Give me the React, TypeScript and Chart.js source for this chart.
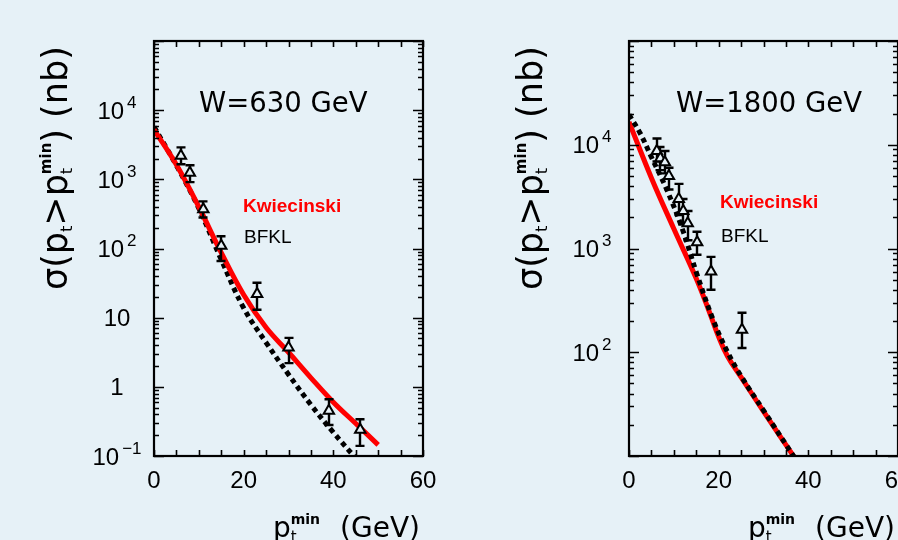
import React, { useEffect, useRef } from "react";
import { Chart, registerables } from "chart.js";

Chart.register(...registerables);

const BG = "#e6f1f7";

// ---------- Panel 1 : W = 630 GeV ----------
const kwi630X = [0, 5, 10, 15, 20, 25, 30, 35, 40, 45, 50];
const kwi630Y = [5250, 1620, 398, 87, 21.4, 7.2, 3.16, 1.35, 0.6, 0.295, 0.145];
const bfkl630X = [0, 5, 10, 15, 20, 25, 30, 35, 40, 45];
const bfkl630Y = [5750, 1585, 380, 69, 13.8, 4.37, 1.51, 0.55, 0.219, 0.093];
const data630X = [6, 8, 11, 15, 23, 30, 39, 46];
const data630Y = [2200, 1250, 370, 110, 22, 3.7, 0.45, 0.24];
const data630Lo = [1650, 910, 280, 66, 13, 2.2, 0.28, 0.14];
const data630Hi = [2900, 1600, 480, 150, 32, 5.1, 0.66, 0.34];

// ---------- Panel 2 : W = 1800 GeV ----------
const kwi1800X = [0, 5, 10, 15, 18, 20, 22, 25, 30, 37];
const kwi1800Y = [16600, 4790, 1550, 513, 240, 141, 91, 57.5, 26.9, 9.55];
const bfkl1800X = [0, 2.5, 5, 8.4, 11.8, 15.1, 18.8, 22, 25, 30, 37];
const bfkl1800Y = [19500, 12900, 7590, 3715, 1585, 575, 204, 100, 58.9, 27.5, 9.55];
const data1800X = [6.2, 7.0, 8.0, 8.9, 11.1, 12.1, 13.1, 15.2, 18.3, 25.2];
const data1800Y = [8700, 7400, 6800, 5000, 3000, 2300, 1750, 1150, 600, 165];
const data1800Lo = [6900, 5700, 5300, 3700, 2100, 1700, 1200, 870, 400, 110];
const data1800Hi = [11500, 9500, 8700, 6000, 4200, 3000, 2300, 1450, 830, 240];

// ---------- Axes ----------
const xTicks = [0, 20, 40, 60];
const yTicks630 = [1e4, 1e3, 1e2, 10, 1, 0.1];
const yBase630 = ["10", "10", "10", "10", "1", "10"];
const yExp630 = ["4", "3", "2", "", "", "\u22121"];
const yTicks1800 = [1e4, 1e3, 1e2];
const yBase1800 = ["10", "10", "10"];
const yExp1800 = ["4", "3", "2"];

const MAIN = '"DejaVu Sans", sans-serif';
const LIB = '"Liberation Sans", Arial, sans-serif';

type Seg = { t: string; px: number; bold?: boolean; dy?: number; gap?: number; stack?: boolean; family?: string; color?: string };

const fontOf = (s: Seg) => `${s.bold ? "bold " : ""}${s.px}px ${s.family || MAIN}`;

function drawRich(ctx: CanvasRenderingContext2D, segs: Seg[], x: number, y: number, align: "left" | "right" | "center") {
  let cur = 0;
  let lastStart = 0;
  let lastW = 0;
  const placed: { s: Seg; sx: number }[] = [];
  for (const s of segs) {
    ctx.font = fontOf(s);
    const w = ctx.measureText(s.t).width;
    let sx: number;
    if (s.stack) {
      sx = lastStart;
      const m = Math.max(lastW, w);
      cur = lastStart + m;
      lastW = m;
    } else {
      sx = cur;
      lastStart = cur;
      lastW = w;
      cur += w;
    }
    cur += s.gap || 0;
    placed.push({ s, sx });
  }
  const off = align === "right" ? -cur : align === "center" ? -cur / 2 : 0;
  ctx.textAlign = "left";
  ctx.textBaseline = "alphabetic";
  for (const { s, sx } of placed) {
    ctx.font = fontOf(s);
    ctx.fillStyle = s.color || "#000";
    ctx.fillText(s.t, x + off + sx, y + (s.dy || 0));
  }
}

type Panel = {
  key: string;
  title: string;
  kx: number[]; ky: number[];
  bx: number[]; by: number[];
  dx: number[]; dy: number[]; lo: number[]; hi: number[];
  yMin: number; yMax: number;
  yTicks: number[]; yBase: string[]; yExp: string[];
  dashOnTop: boolean;
  pad: { left: number; right: number; top: number; bottom: number };
  width: number;
  titleDx: number; kwiDx: number; kwiY: number; bfklY: number;
};

function makePlugin(p: Panel) {
  return {
    id: "panel" + p.key,
    beforeDatasetDraw(chart: any, args: any) {
      if (args.index !== 0) return;
      const { ctx, chartArea: a } = chart;
      const xs = chart.scales.x;
      const ys = chart.scales.y;
      ctx.save();
      ctx.beginPath();
      ctx.rect(a.left, a.top, a.right - a.left, a.bottom - a.top);
      ctx.clip();
      ctx.strokeStyle = "#000";
      ctx.lineWidth = 2.4;
      p.dx.forEach((v, i) => {
        const px = Math.round(xs.getPixelForValue(v));
        const yl = ys.getPixelForValue(p.lo[i]);
        const yh = ys.getPixelForValue(p.hi[i]);
        ctx.beginPath();
        ctx.moveTo(px, yl);
        ctx.lineTo(px, yh);
        ctx.moveTo(px - 4.5, yl);
        ctx.lineTo(px + 4.5, yl);
        ctx.moveTo(px - 4.5, yh);
        ctx.lineTo(px + 4.5, yh);
        ctx.stroke();
      });
      ctx.restore();
    },
    afterDraw(chart: any) {
      const { ctx, chartArea: a } = chart;
      const xs = chart.scales.x;
      const ys = chart.scales.y;
      ctx.save();
      ctx.strokeStyle = "#000";
      // ticks
      ctx.lineWidth = 1.6;
      ctx.beginPath();
      for (let v = 0; v <= 60; v += 5) {
        const px = Math.round(xs.getPixelForValue(v)) + 0.5;
        ctx.moveTo(px, a.bottom);
        ctx.lineTo(px, a.bottom - 6);
        ctx.moveTo(px, a.top);
        ctx.lineTo(px, a.top + 6);
      }
      const d0 = Math.floor(Math.log10(p.yMin));
      const d1 = Math.ceil(Math.log10(p.yMax));
      for (let d = d0; d <= d1; d++) {
        for (let k = 1; k <= 9; k++) {
          const v = k * Math.pow(10, d);
          if (v < p.yMin * 0.999 || v > p.yMax * 1.001) continue;
          const py = Math.round(ys.getPixelForValue(v)) + 0.5;
          const len = k === 1 ? 10 : 5;
          ctx.moveTo(a.left, py);
          ctx.lineTo(a.left + len, py);
          ctx.moveTo(a.right, py);
          ctx.lineTo(a.right - len, py);
        }
      }
      ctx.stroke();
      // frame
      ctx.lineWidth = 2.2;
      ctx.strokeRect(a.left, a.top, a.right - a.left, a.bottom - a.top);

      // x tick labels
      ctx.fillStyle = "#000";
      ctx.font = `24px ${LIB}`;
      ctx.textAlign = "center";
      ctx.textBaseline = "alphabetic";
      xTicks.forEach((v) => {
        ctx.fillText(String(v), xs.getPixelForValue(v), a.bottom + 32);
      });
      // y tick labels
      p.yTicks.forEach((v, i) => {
        const py = ys.getPixelForValue(v);
        const segs: Seg[] = [{ t: p.yBase[i], px: 24, family: LIB, gap: p.yExp[i] ? 3 : 0 }];
        if (p.yExp[i]) segs.push({ t: p.yExp[i], px: 17, family: LIB, dy: -11 });
        drawRich(ctx, segs, a.left - 37, py + 8.5, "center");
      });

      // x title
      drawRich(
        ctx,
        [
          { t: "p", px: 28 },
          { t: "t", px: 15, dy: 5 },
          { t: "min", px: 14, bold: true, dy: -13, stack: true, gap: 20 },
          { t: "(GeV)", px: 28 },
        ],
        a.right - 3,
        a.bottom + 81,
        "right"
      );

      // y title (rotated)
      ctx.save();
      ctx.translate(a.left - 87, 290);
      ctx.rotate(-Math.PI / 2);
      drawRich(
        ctx,
        [
          { t: "\u03c3(p", px: 35 },
          { t: "t", px: 16, dy: 5 },
          { t: ">p", px: 35 },
          { t: "t", px: 16, dy: 5 },
          { t: "min", px: 15, bold: true, dy: -16, stack: true },
          { t: ") (nb)", px: 35 },
        ],
        0,
        0,
        "left"
      );
      ctx.restore();

      // annotations
      ctx.textAlign = "left";
      ctx.fillStyle = "#000";
      ctx.font = `27.5px ${MAIN}`;
      ctx.fillText(p.title, a.left + p.titleDx, 112);
      ctx.fillStyle = "#ff0000";
      ctx.font = `bold 19px ${LIB}`;
      ctx.fillText("Kwiecinski", a.left + p.kwiDx, p.kwiY);
      ctx.fillStyle = "#000";
      ctx.font = `19px ${LIB}`;
      ctx.fillText("BFKL", a.left + p.kwiDx + 1, p.bfklY);
      ctx.restore();
    },
  };
}

function makeConfig(p: Panel): any {
  const pts = (xs: number[], ys: number[]) => xs.map((x, i) => ({ x, y: ys[i] }));
  return {
    type: "line",
    data: {
      datasets: [
        {
          label: "data",
          data: pts(p.dx, p.dy),
          showLine: false,
          pointStyle: "triangle",
          pointRadius: 6,
          pointBorderWidth: 2,
          pointBorderColor: "#000",
          pointBackgroundColor: BG,
          order: 0,
        },
        {
          label: "BFKL",
          data: pts(p.bx, p.by),
          borderColor: "#000",
          borderWidth: 5,
          borderDash: [5, 4],
          pointRadius: 0,
          tension: 0.4,
          fill: false,
          order: p.dashOnTop ? 1 : 2,
        },
        {
          label: "Kwiecinski",
          data: pts(p.kx, p.ky),
          borderColor: "#ff0000",
          borderWidth: 5,
          pointRadius: 0,
          tension: 0.4,
          fill: false,
          order: p.dashOnTop ? 2 : 1,
        },
      ],
    },
    options: {
      responsive: false,
      animation: false,
      devicePixelRatio: 1,
      events: [],
      layout: { padding: p.pad },
      scales: {
        x: { type: "linear", min: 0, max: 60, display: false },
        y: { type: "logarithmic", min: p.yMin, max: p.yMax, display: false },
      },
      plugins: { legend: { display: false }, tooltip: { enabled: false } },
    },
    plugins: [makePlugin(p)],
  };
}

const panel630: Panel = {
  key: "630",
  title: "W=630 GeV",
  kx: kwi630X, ky: kwi630Y, bx: bfkl630X, by: bfkl630Y,
  dx: data630X, dy: data630Y, lo: data630Lo, hi: data630Hi,
  yMin: 0.1, yMax: 1e5,
  yTicks: yTicks630, yBase: yBase630, yExp: yExp630,
  dashOnTop: false,
  pad: { left: 154, right: 26, top: 41, bottom: 84 },
  width: 449,
  titleDx: 45, kwiDx: 89, kwiY: 212, bfklY: 243,
};

const panel1800: Panel = {
  key: "1800",
  title: "W=1800 GeV",
  kx: kwi1800X, ky: kwi1800Y, bx: bfkl1800X, by: bfkl1800Y,
  dx: data1800X, dy: data1800Y, lo: data1800Lo, hi: data1800Hi,
  yMin: 10, yMax: 1e5,
  yTicks: yTicks1800, yBase: yBase1800, yExp: yExp1800,
  dashOnTop: true,
  pad: { left: 180, right: 31, top: 41, bottom: 84 },
  width: 480,
  titleDx: 47, kwiDx: 91, kwiY: 208, bfklY: 242,
};

function PanelChart({ p, left }: { p: Panel; left: number }) {
  const ref = useRef<HTMLCanvasElement | null>(null);
  useEffect(() => {
    if (!ref.current) return;
    const chart = new Chart(ref.current, makeConfig(p));
    return () => chart.destroy();
  }, [p]);
  return (
    <canvas
      ref={ref}
      width={p.width}
      height={540}
      style={{ position: "absolute", left, top: 0, width: p.width, height: 540 }}
    />
  );
}

export default function App() {
  return (
    <div
      style={{
        position: "fixed",
        left: 0,
        top: 0,
        width: 898,
        height: 540,
        overflow: "hidden",
        background: BG,
      }}
    >
      <PanelChart p={panel630} left={0} />
      <PanelChart p={panel1800} left={449} />
    </div>
  );
}
